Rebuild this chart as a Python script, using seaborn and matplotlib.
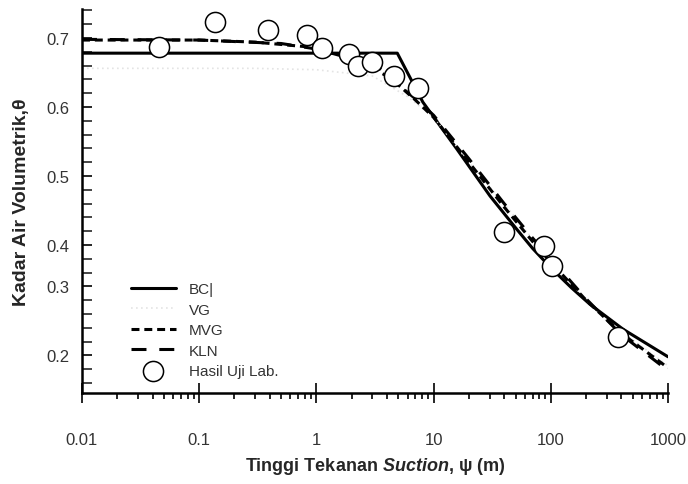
import matplotlib
matplotlib.use("Agg")
import matplotlib.pyplot as plt
import seaborn as sns
import numpy as np
from matplotlib.ticker import FixedLocator, LogLocator, NullFormatter

# ---- data ----
# suction (m) and volumetric water content for each fitted curve
bc_psi = [0.01, 4.9, 8.1, 15.8, 30.3, 50, 70, 100, 150, 216, 413, 1000]
bc_theta = [0.678, 0.678, 0.607, 0.539, 0.471, 0.425, 0.395, 0.367, 0.338,
            0.314, 0.278, 0.238]

vg_psi = [0.01, 0.3, 1, 3, 6, 10, 20, 50, 100, 300, 1000]
vg_theta = [0.656, 0.656, 0.654, 0.645, 0.615, 0.585, 0.520, 0.440, 0.375, 0.290, 0.225]

mvg_psi = [0.01, 0.1, 0.3, 1, 2, 3.5, 5, 7, 10, 20, 40, 70, 100, 200, 400, 1000]
mvg_theta = [0.697, 0.697, 0.694, 0.686, 0.672, 0.655, 0.632, 0.610, 0.585, 0.520,
             0.455, 0.405, 0.375, 0.320, 0.272, 0.222]

kln_psi = [0.01, 0.1, 0.5, 1, 2, 4, 7, 10, 20, 40, 70, 100, 200, 400, 1000]
kln_theta = [0.698, 0.697, 0.692, 0.684, 0.670, 0.645, 0.612, 0.588, 0.525,
             0.460, 0.410, 0.380, 0.322, 0.270, 0.218]

# laboratory test results
lab_psi = [0.045, 0.136, 0.387, 0.83, 1.12, 1.90, 2.26, 2.98, 4.59, 7.36,
           39.9, 87.5, 102, 374]
lab_theta = [0.687, 0.723, 0.712, 0.704, 0.686, 0.677, 0.659, 0.665, 0.645, 0.628,
             0.419, 0.399, 0.370, 0.267]

# y axis tick positions and the labels printed at them
ytick_pos = [0.70, 0.60, 0.50, 0.40, 0.34, 0.24]
ytick_lab = ["0.7", "0.6", "0.5", "0.4", "0.3", "0.2"]
xtick_pos = [0.01, 0.1, 1, 10, 100, 1000]
xtick_lab = ["0.01", "0.1", "1", "10", "100", "1000"]

sns.set_style("white")
plt.rcParams['font.family'] = ['Liberation Sans', 'DejaVu Sans']
plt.rcParams['mathtext.fontset'] = 'custom'
plt.rcParams['mathtext.bfit'] = 'Liberation Sans:italic:bold'

fig = plt.figure(figsize=(6.88, 4.85), dpi=100)
ax = fig.add_axes([82/688, 91/485, 586/688, 384/485])

lw = 2.2
sns.lineplot(x=bc_psi, y=bc_theta, ax=ax, color='black', lw=lw, label='BC|', sort=False)
sns.lineplot(x=vg_psi, y=vg_theta, ax=ax, color='#e4e4e4', lw=1.2,
             linestyle=(0, (1, 2)), label='VG', sort=False)
sns.lineplot(x=mvg_psi, y=mvg_theta, ax=ax, color='black', lw=lw,
             linestyle=(0, (2.6, 1.6)), label='MVG', sort=False)
sns.lineplot(x=kln_psi, y=kln_theta, ax=ax, color='black', lw=lw,
             linestyle=(0, (4.9, 4.2)), label='KLN', sort=False)
sns.scatterplot(x=lab_psi, y=lab_theta, ax=ax, s=210, facecolor='white',
                edgecolor='black', linewidth=1.1, label='Hasil Uji Lab.', zorder=5)

ax.set_xscale('log')
ax.set_xlim(0.01, 1000)
ax.set_ylim(0.1855, 0.742)

ax.xaxis.set_major_locator(FixedLocator(xtick_pos))
ax.set_xticklabels(xtick_lab)
ax.xaxis.set_minor_locator(LogLocator(base=10, subs=np.arange(2, 10)))
ax.xaxis.set_minor_formatter(NullFormatter())

ax.yaxis.set_major_locator(FixedLocator(ytick_pos))
ax.set_yticklabels(ytick_lab)
ax.yaxis.set_minor_locator(FixedLocator(np.round(np.arange(0.20, 0.745, 0.02), 2)))

ax.tick_params(axis='x', which='major', direction='inout', length=14, width=1.4,
               pad=21, labelsize=12, labelcolor='#333333')
ax.tick_params(axis='x', which='minor', direction='out', length=4, width=1.4)
ax.tick_params(axis='y', which='major', direction='in', length=7, width=1.4,
               pad=9, labelsize=12, labelcolor='#333333')
ax.tick_params(axis='y', which='minor', direction='in', length=7, width=1.2)
ax.tick_params(bottom=True, left=True, which='both')

for side in ['top', 'right']:
    ax.spines[side].set_visible(False)
for side in ['left', 'bottom']:
    ax.spines[side].set_linewidth(1.8)
    ax.spines[side].set_color('black')

ax.set_xlabel(r'Tinggi Tekanan $\mathbfit{Suction}$, ψ (m)', fontsize=13,
              fontweight='bold', labelpad=6)
ax.set_ylabel('Kadar Air Volumetrik,θ', fontsize=14, fontweight='bold', labelpad=12)

leg = ax.legend(loc='upper left', bbox_to_anchor=(0.06, 0.325), frameon=False,
                fontsize=11, handlelength=2.95, handletextpad=0.85, labelspacing=0.43)
for t in leg.get_texts():
    t.set_color('#333333')

fig.savefig('out.png', dpi=100)
